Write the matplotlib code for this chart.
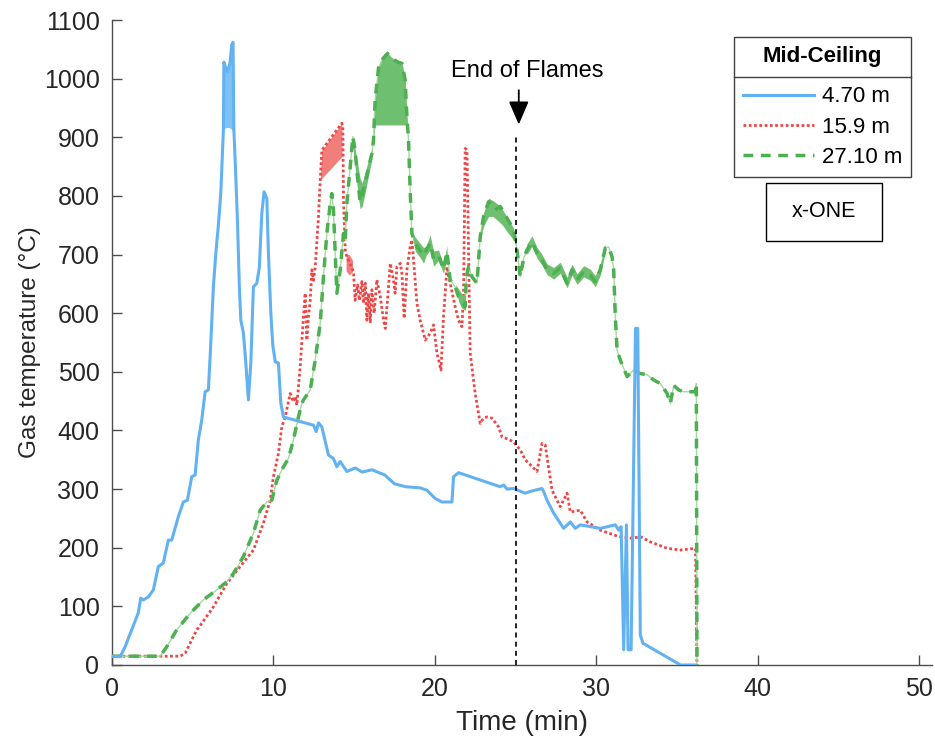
import matplotlib
matplotlib.use("Agg")
import matplotlib.pyplot as plt
from matplotlib.lines import Line2D
from matplotlib.patches import Rectangle

plt.rcParams['font.family'] = ['Liberation Sans', 'DejaVu Sans']

# ---------------- data: (time [min], gas temperature [°C]) ----------------
series_labels = ["4.70 m", "15.9 m", "27.10 m"]
legend_title = "Mid-Ceiling"
case_name = "x-ONE"

blue_points = [
    (0, 15), (0.5, 14), (0.81, 31), (1.22, 60), (1.63, 89), (1.78, 114), (1.94, 111),
    (2.25, 116), (2.56, 128), (2.87, 168), (3.18, 174), (3.49, 213), (3.70, 213),
    (4.11, 253), (4.42, 278), (4.67, 281), (4.94, 321), (5.15, 324), (5.35, 384),
    (5.56, 418), (5.77, 466), (5.97, 469), (6.08, 526), (6.28, 645), (6.45, 708),
    (6.59, 750), (6.74, 805), (6.90, 912), (6.93, 1028), (7.05, 1018), (7.15, 1012),
    (7.3, 1025), (7.42, 1058), (7.5, 1062), (7.55, 912), (7.63, 861), (7.77, 759),
    (7.89, 645), (7.98, 588), (8.14, 566), (8.29, 515), (8.45, 452), (8.60, 515),
    (8.76, 645), (8.97, 651), (9.13, 679), (9.28, 770), (9.42, 807), (9.59, 796),
    (9.69, 703), (9.84, 600), (9.96, 546), (10.11, 517), (10.31, 515), (10.46, 446),
    (10.62, 423), (12.48, 409), (12.65, 398), (12.79, 413), (13.0, 406), (13.41, 358),
    (13.72, 352), (13.93, 338), (14.14, 347), (14.55, 330), (15.07, 336), (15.5, 329),
    (16.1, 333), (16.9, 324), (17.5, 309), (18.2, 304), (19.1, 302), (19.51, 298),
    (20.02, 284), (20.44, 278), (21.06, 278), (21.16, 321), (21.47, 328), (24.05, 304),
    (24.26, 307), (24.47, 300), (24.88, 301), (25.6, 293), (25.91, 296), (26.64, 301),
    (26.74, 296), (26.95, 281), (27.36, 259), (27.98, 233), (28.39, 244), (28.7, 233),
    (29.01, 239), (30.25, 233), (31.18, 239), (31.39, 230), (31.54, 236), (31.70, 26),
    (31.87, 239), (31.97, 26), (32.16, 26), (32.43, 574), (32.57, 574), (32.73, 51),
    (32.9, 37), (35.22, 0), (36.14, 0),
]

red_points = [
    (0, 15), (4.22, 15), (4.53, 20), (5.25, 60), (5.56, 71), (6.28, 99), (7.11, 139),
    (7.94, 168), (8.76, 196), (9.38, 242), (9.80, 281), (10.0, 321), (10.31, 361),
    (10.52, 406), (10.73, 423), (11.04, 463), (11.24, 449), (11.35, 458), (11.45, 443),
    (11.66, 509), (11.86, 594), (11.97, 634), (12.07, 554), (12.17, 594), (12.28, 622),
    (12.38, 674), (12.48, 656), (12.59, 679), (12.79, 764), (12.90, 827), (13.0, 878),
    (14.24, 924), (14.30, 918), (14.34, 793), (14.45, 708), (14.55, 696), (14.96, 671),
    (15.06, 622), (15.21, 648), (15.33, 622), (15.48, 654), (15.58, 617), (15.69, 651),
    (15.79, 588), (15.89, 634), (16.0, 585), (16.1, 640), (16.24, 600), (16.41, 657),
    (16.62, 628), (16.82, 588), (16.93, 574), (17.13, 645), (17.24, 685), (17.44, 656),
    (17.54, 634), (17.65, 679), (17.86, 685), (17.96, 668), (18.1, 591), (18.27, 674),
    (18.47, 713), (18.58, 725), (18.68, 691), (18.89, 617), (19.09, 588), (19.41, 554),
    (19.71, 566), (19.92, 580), (20.13, 532), (20.38, 503), (20.54, 594), (20.75, 679),
    (20.95, 651), (21.26, 611), (21.47, 588), (21.68, 577), (21.78, 634), (21.88, 881),
    (21.99, 878), (22.09, 702), (22.19, 532), (22.5, 463), (22.81, 412), (23.02, 421),
    (23.23, 423), (23.54, 421), (23.95, 406), (24.16, 389), (24.57, 385), (24.88, 380),
    (25.29, 367), (25.6, 350), (26.33, 330), (26.64, 378), (26.84, 375), (27.26, 298),
    (27.77, 270), (28.19, 293), (28.39, 261), (29.01, 264), (29.43, 244), (30.25, 230),
    (31.39, 219), (32.22, 216), (32.73, 219), (33.35, 210), (34.39, 199), (35.22, 196),
    (36.15, 199), (36.24, 0),
]

green_points = [
    (0, 15), (2.98, 15), (3.39, 31), (4.01, 60), (4.84, 88), (5.66, 111), (6.49, 128),
    (7.11, 142), (7.52, 156), (8.14, 185), (8.76, 225), (9.18, 264), (9.59, 278),
    (9.9, 281), (10.21, 315), (10.62, 338), (10.93, 352), (11.24, 384), (11.55, 423),
    (11.76, 446), (11.86, 452), (12.28, 469), (12.59, 520), (12.90, 583), (13.1, 662),
    (13.31, 736), (13.52, 787), (13.62, 804), (13.72, 776), (13.82, 708), (13.93, 634),
    (14.14, 674), (14.34, 736), (14.45, 724), (14.55, 787), (14.76, 850), (14.92, 901),
    (15.06, 878), (15.2, 835), (15.37, 790), (15.5, 800), (15.7, 825), (15.95, 855),
    (16.1, 872), (16.2, 895), (16.3, 963), (16.51, 1018), (16.72, 1032), (17.07, 1043),
    (17.34, 1035), (17.65, 1029), (17.96, 1026), (18.16, 998), (18.27, 935), (18.37, 895),
    (18.47, 810), (18.58, 736), (18.78, 718), (19.09, 707), (19.3, 698), (19.45, 706),
    (19.71, 720), (19.92, 692), (20.23, 698), (20.54, 675), (20.75, 705), (20.95, 657),
    (21.26, 645), (21.47, 628), (21.68, 620), (21.88, 611), (21.95, 662), (22.09, 679),
    (22.3, 662), (22.61, 651), (22.81, 730), (23.02, 765), (23.33, 790), (23.43, 787),
    (23.74, 776), (24.05, 782), (24.36, 767), (24.67, 753), (24.88, 742), (25.09, 708),
    (25.29, 662), (25.5, 693), (25.71, 708), (26.02, 722), (26.33, 702), (26.64, 691),
    (26.95, 674), (27.36, 668), (27.77, 677), (28.19, 651), (28.5, 674), (28.81, 657),
    (29.22, 671), (29.63, 665), (29.94, 654), (30.25, 674), (30.56, 711), (30.77, 713),
    (30.98, 696), (31.08, 674), (31.18, 594), (31.29, 537), (31.49, 520), (31.91, 492),
    (32.32, 503), (32.73, 497), (33.15, 495), (33.56, 486), (33.97, 480), (34.39, 463),
    (34.59, 446), (34.8, 477), (35.11, 469), (35.42, 466), (35.73, 466), (36.14, 466),
    (36.2, 480), (36.24, 0),
]

# fast-fluctuation envelopes: (time, low, high)
blue_bands = [
    [(6.92, 915, 1028), (7.05, 916, 1018), (7.15, 917, 1012), (7.3, 916, 1025),
     (7.42, 913, 1058), (7.5, 912, 1062)],
]
red_bands = [
    [(12.9, 827, 827), (13.0, 830, 878), (14.24, 867, 924)],
    [(14.5, 672, 700), (14.7, 665, 700), (14.9, 671, 690)],
]
green_bands = [
    [(14.95, 875, 895), (15.2, 815, 858), (15.37, 778, 830), (15.5, 782, 822),
     (15.7, 808, 842), (15.95, 842, 868), (16.1, 862, 880)],
    [(16.2, 895, 895), (16.3, 921, 963), (16.51, 921, 1018), (16.72, 921, 1032),
     (17.07, 921, 1043), (17.34, 921, 1035), (17.65, 921, 1029), (17.96, 921, 1026),
     (18.16, 921, 998), (18.27, 921, 935), (18.33, 921, 921)],
    [(18.6, 736, 736), (18.78, 706, 730), (19.09, 695, 719), (19.3, 685, 712),
     (19.45, 698, 714), (19.71, 708, 733), (19.92, 680, 706), (20.23, 690, 708),
     (20.54, 668, 682), (20.75, 695, 716)],
    [(21.3, 640, 648), (21.5, 618, 640), (21.7, 608, 632), (21.9, 605, 630)],
    [(22.81, 725, 735), (23.02, 748, 770), (23.33, 765, 796), (23.6, 765, 792),
     (23.9, 758, 786), (24.2, 750, 776), (24.5, 738, 762), (24.88, 725, 745)],
    [(25.7, 700, 718), (26.02, 714, 732), (26.33, 694, 712), (26.64, 682, 700),
     (26.95, 666, 684), (27.36, 658, 678), (27.77, 668, 687), (28.19, 643, 661),
     (28.5, 665, 684), (28.81, 649, 667), (29.22, 662, 681), (29.63, 656, 675),
     (29.94, 645, 664), (30.25, 665, 684), (30.56, 704, 718)],
]

flame_end_time = 25.0
flame_line_top = 900

# ---------------- styling ----------------
blue = '#62B2F2'
blue_fill = '#80C1F5'
red = '#EE4646'
red_fill = '#F27E7B'
green = '#4CAF50'
green_fill = '#6FBF70'
green_thin = '#A6D8A6'
axis_col = '#4D4D4D'
text_col = '#262626'

red_style = (0, (1.0, 0.9))
green_style = (0, (2.8, 2.2))

fig = plt.figure(figsize=(9.35, 7.51), dpi=100)
ax = fig.add_axes([112 / 935, 86 / 751, 820 / 935, 645 / 751])


def unzip(points):
    return [p[0] for p in points], [p[1] for p in points]


def draw_bands(bands, color, z):
    for band in bands:
        t = [b[0] for b in band]
        lo = [b[1] for b in band]
        hi = [b[2] for b in band]
        ax.fill_between(t, lo, hi, color=color, lw=0, zorder=z)


# red: 15.9 m
rt, rv = unzip(red_points)
draw_bands(red_bands, red_fill, 2)
ax.plot(rt, rv, color=red, lw=2.0, ls=red_style, zorder=3)

# green: 27.10 m
gt, gv = unzip(green_points)
ax.plot(gt, gv, color=green_thin, lw=1.0, zorder=4)
draw_bands(green_bands, green_fill, 4)
ax.plot(gt, gv, color=green, lw=2.5, ls=green_style, zorder=5)

# blue: 4.70 m
bt, bv = unzip(blue_points)
draw_bands(blue_bands, blue_fill, 6)
ax.plot(bt, bv, color=blue, lw=2.2, zorder=7, solid_joinstyle='round')

# end of flames marker
ax.plot([flame_end_time, flame_end_time], [0, flame_line_top], color='black',
        lw=1.2, ls=(0, (3, 2.5)), zorder=8)
ax.annotate('', xy=(flame_end_time + 0.2, 917), xytext=(flame_end_time + 0.2, 985),
            arrowprops=dict(arrowstyle='-|>,head_length=0.65,head_width=0.28',
                            color='black', lw=1.3, mutation_scale=22), zorder=9)
ax.text(flame_end_time + 0.7, 1013, 'End of Flames', ha='center', va='center',
        fontsize=17, color='black')

# axes
ax.set_xlim(0, 50.8)
ax.set_ylim(0, 1100)
ax.set_xticks(range(0, 51, 10))
ax.set_yticks(range(0, 1101, 100))
for side in ('top', 'right'):
    ax.spines[side].set_visible(False)
for side in ('left', 'bottom'):
    ax.spines[side].set_color(axis_col)
    ax.spines[side].set_linewidth(1.0)
ax.tick_params(direction='in', length=7, width=1, color=axis_col,
               labelcolor=text_col, labelsize=18, pad=9)
ax.set_xlabel('Time (min)', fontsize=20, color=text_col, labelpad=6)
ax.set_ylabel('Gas temperature (°C)', fontsize=17.5, color=text_col, labelpad=2)

# legend
handles = [
    Line2D([], [], color=blue, lw=2.2),
    Line2D([], [], color=red, lw=2.0, ls=red_style),
    Line2D([], [], color=green, lw=2.5, ls=green_style),
]
leg = ax.legend(handles, series_labels, title=legend_title, loc='upper right',
                bbox_to_anchor=((911 - 112) / 820, (665 - 37) / 645),
                fontsize=16, title_fontproperties={'weight': 'bold', 'size': 16},
                frameon=True, fancybox=False, edgecolor='#404040', framealpha=1,
                handlelength=3.2, handletextpad=0.35, labelspacing=0.42,
                borderpad=0.4, borderaxespad=0)
leg.get_frame().set_linewidth(1.0)
leg.set_zorder(20)
leg._legend_box.sep = 14  # room between title row and entries

# case label box
ax.add_patch(Rectangle((0.7972, 0.6578), 0.1422, 0.0899, transform=ax.transAxes,
                       facecolor='white', edgecolor='black', lw=1.0, zorder=20))
ax.text(0.8677, 0.7028, case_name, transform=ax.transAxes, ha='center', va='center',
        fontsize=15.5, color='black', zorder=21)

# divider under the legend title
fig.canvas.draw()
renderer = fig.canvas.get_renderer()
fb = leg.get_frame().get_window_extent(renderer)
tb = leg.get_title().get_window_extent(renderer)
first = leg.get_texts()[0].get_window_extent(renderer)
y_div = (tb.y0 + first.y1) / 2
inv = fig.transFigure.inverted()
(x0, y0) = inv.transform((fb.x0, y_div))
(x1, _) = inv.transform((fb.x1, y_div))
fig.add_artist(Line2D([x0, x1], [y0, y0], transform=fig.transFigure,
                      color='#404040', lw=1.0, zorder=30))

fig.savefig('out.png', dpi=100)
